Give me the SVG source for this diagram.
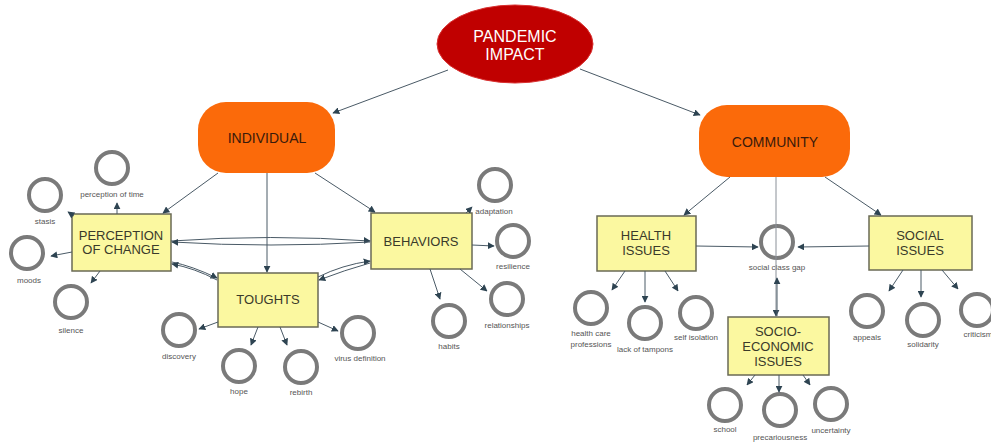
<svg xmlns="http://www.w3.org/2000/svg" width="991" height="443" viewBox="0 0 991 443">
<defs>
<marker id="ah" viewBox="0 0 10 10" refX="9" refY="5" markerWidth="7" markerHeight="7" markerUnits="userSpaceOnUse" orient="auto">
<path d="M0,0 L10,5 L0,10 z" fill="#2e4452"/>
</marker>
<style>
.c{fill:none;stroke:#4a5a66;stroke-width:1;marker-end:url(#ah)}
.box{fill:#fbf8a0;stroke:#6a6a55;stroke-width:1.5}
.bt{font-family:"Liberation Sans",Arial,sans-serif;font-size:13px;fill:#3a3a2a;text-anchor:middle}
.ring{fill:#fff;stroke:#7a7a7a;stroke-width:4}
.lt{font-family:"Liberation Sans",Arial,sans-serif;font-size:8px;fill:#555;text-anchor:middle}
.org{fill:#fb6a0a}
.ot{font-family:"Liberation Sans",Arial,sans-serif;font-size:14px;fill:#3a1a0a;text-anchor:middle}
</style>
</defs>
<rect width="991" height="443" fill="#fff"/>

<g id="pandemic-impact">
<ellipse cx="515" cy="44" rx="78" ry="39" fill="#c00000" stroke="#d83030" stroke-width="1"/>
<text x="515" y="42" font-family="Liberation Sans, Arial, sans-serif" font-size="16" fill="#fff" text-anchor="middle">PANDEMIC</text>
<text x="515" y="60" font-family="Liberation Sans, Arial, sans-serif" font-size="16" fill="#fff" text-anchor="middle">IMPACT</text>
</g>
<g id="individual">
<rect class="org" x="198" y="102" width="137" height="71" rx="28"/>
<text class="ot" x="267" y="143">INDIVIDUAL</text>
</g>
<g id="community">
<rect class="org" x="699" y="105" width="151" height="72" rx="28"/>
<text class="ot" x="775" y="147">COMMUNITY</text>
</g>

<g id="perception-of-change">
<rect class="box" x="72" y="214" width="99" height="57"/>
<text class="bt" x="121" y="240">PERCEPTION</text>
<text class="bt" x="121" y="254">OF CHANGE</text>
</g>
<g id="behaviors">
<rect class="box" x="371" y="213" width="101" height="56"/>
<text class="bt" x="421" y="246">BEHAVIORS</text>
</g>
<g id="toughts">
<rect class="box" x="218" y="273" width="100" height="54"/>
<text class="bt" x="268" y="304">TOUGHTS</text>
</g>
<g id="health-issues">
<rect class="box" x="597" y="216" width="99" height="55"/>
<text class="bt" x="646" y="240">HEALTH</text>
<text class="bt" x="646" y="255">ISSUES</text>
</g>
<g id="social-issues">
<rect class="box" x="869" y="216" width="103" height="54"/>
<text class="bt" x="920" y="240">SOCIAL</text>
<text class="bt" x="920" y="255">ISSUES</text>
</g>
<g id="socio-economic-issues">
<rect class="box" x="728" y="317" width="101" height="58"/>
<text class="bt" x="778" y="336">SOCIO-</text>
<text class="bt" x="778" y="351">ECONOMIC</text>
<text class="bt" x="778" y="366">ISSUES</text>
</g>

<g id="stasis"><circle class="ring" cx="45" cy="195" r="16"/><text class="lt" x="45" y="224">stasis</text></g>
<g id="perception-of-time"><circle class="ring" cx="112" cy="168" r="16"/><text class="lt" x="112" y="197">perception of time</text></g>
<g id="moods"><circle class="ring" cx="27" cy="253" r="16"/><text class="lt" x="29" y="283">moods</text></g>
<g id="silence"><circle class="ring" cx="71" cy="302" r="16"/><text class="lt" x="71" y="333">silence</text></g>
<g id="discovery"><circle class="ring" cx="179" cy="330" r="16"/><text class="lt" x="179" y="359">discovery</text></g>
<g id="hope"><circle class="ring" cx="239" cy="366" r="16"/><text class="lt" x="239" y="394">hope</text></g>
<g id="rebirth"><circle class="ring" cx="301" cy="367" r="16"/><text class="lt" x="301" y="395">rebirth</text></g>
<g id="virus-definition"><circle class="ring" cx="358" cy="333" r="16"/><text class="lt" x="360" y="361">virus definition</text></g>
<g id="adaptation"><circle class="ring" cx="495" cy="185" r="16"/><text class="lt" x="494" y="214">adaptation</text></g>
<g id="resilience"><circle class="ring" cx="513" cy="241" r="16"/><text class="lt" x="513" y="269">resilience</text></g>
<g id="relationships"><circle class="ring" cx="507" cy="299" r="16"/><text class="lt" x="507" y="328">relationships</text></g>
<g id="habits"><circle class="ring" cx="449" cy="321" r="16"/><text class="lt" x="449" y="349">habits</text></g>
<g id="social-class-gap"><circle class="ring" cx="777" cy="242" r="16" fill="none" style="fill:none"/><text class="lt" x="777" y="270">social class gap</text></g>
<g id="health-care-professions"><circle class="ring" cx="591" cy="308" r="16"/><text class="lt" x="591" y="336">health care</text><text class="lt" x="591" y="347">professions</text></g>
<g id="lack-of-tampons"><circle class="ring" cx="645" cy="323" r="16"/><text class="lt" x="645" y="352">lack of tampons</text></g>
<g id="self-isolation"><circle class="ring" cx="696" cy="313" r="16"/><text class="lt" x="696" y="340">self isolation</text></g>
<g id="appeals"><circle class="ring" cx="867" cy="311" r="16"/><text class="lt" x="867" y="340">appeals</text></g>
<g id="solidarity"><circle class="ring" cx="923" cy="320" r="16"/><text class="lt" x="923" y="347">solidarity</text></g>
<g id="criticism"><circle class="ring" cx="977" cy="310" r="16"/><text class="lt" x="978" y="337">criticism</text></g>
<g id="school"><circle class="ring" cx="725" cy="405" r="16"/><text class="lt" x="725" y="432">school</text></g>
<g id="precariousness"><circle class="ring" cx="780" cy="410" r="16"/><text class="lt" x="780" y="440">precariousness</text></g>
<g id="uncertainty"><circle class="ring" cx="831" cy="404" r="16"/><text class="lt" x="831" y="433">uncertainty</text></g>

<g id="connectors">
<line class="c" x1="448" y1="70" x2="333" y2="113"/>
<line class="c" x1="580" y1="69" x2="700" y2="115"/>
<line class="c" x1="218" y1="173" x2="163" y2="213"/>
<line class="c" x1="267" y1="173" x2="267" y2="272"/>
<line class="c" x1="315" y1="173" x2="375" y2="212"/>
<path class="c" d="M171,241 Q271,234 370,241"/>
<path class="c" d="M370,242 Q271,248 172,242"/>
<path class="c" d="M172,262 Q192,266 217,278"/>
<path class="c" d="M217,280 Q194,268 172,264"/>
<path class="c" d="M318,277 Q342,265 370,261"/>
<path class="c" d="M370,263 Q345,270 319,280"/>
<line class="c" x1="74" y1="216" x2="68" y2="212"/>
<line class="c" x1="117" y1="214" x2="117" y2="203"/>
<line class="c" x1="72" y1="252" x2="51" y2="256"/>
<line class="c" x1="100" y1="271" x2="91" y2="283"/>
<line class="c" x1="218" y1="322" x2="199" y2="329"/>
<line class="c" x1="258" y1="327" x2="251" y2="345"/>
<line class="c" x1="280" y1="327" x2="287" y2="345"/>
<line class="c" x1="318" y1="322" x2="338" y2="331"/>
<line class="c" x1="466" y1="213" x2="472" y2="207"/>
<line class="c" x1="472" y1="245" x2="494" y2="246"/>
<line class="c" x1="460" y1="269" x2="487" y2="291"/>
<line class="c" x1="430" y1="269" x2="440" y2="299"/>
<line class="c" x1="730" y1="177" x2="684" y2="215"/>
<line class="c" x1="776" y1="177" x2="776" y2="316" style="stroke:#8a9098"/>
<line class="c" x1="777" y1="316" x2="777" y2="278"/>
<line class="c" x1="825" y1="177" x2="881" y2="215"/>
<line class="c" x1="696" y1="246" x2="758" y2="247"/>
<line class="c" x1="869" y1="246" x2="798" y2="247"/>
<line class="c" x1="625" y1="271" x2="612" y2="290"/>
<line class="c" x1="645" y1="271" x2="645" y2="302"/>
<line class="c" x1="665" y1="271" x2="678" y2="291"/>
<line class="c" x1="903" y1="270" x2="889" y2="291"/>
<line class="c" x1="921" y1="270" x2="921" y2="297"/>
<line class="c" x1="942" y1="270" x2="958" y2="289"/>
<line class="c" x1="755" y1="375" x2="747" y2="385"/>
<line class="c" x1="779" y1="375" x2="779" y2="392"/>
<line class="c" x1="803" y1="375" x2="810" y2="385"/>
</g>
</svg>
